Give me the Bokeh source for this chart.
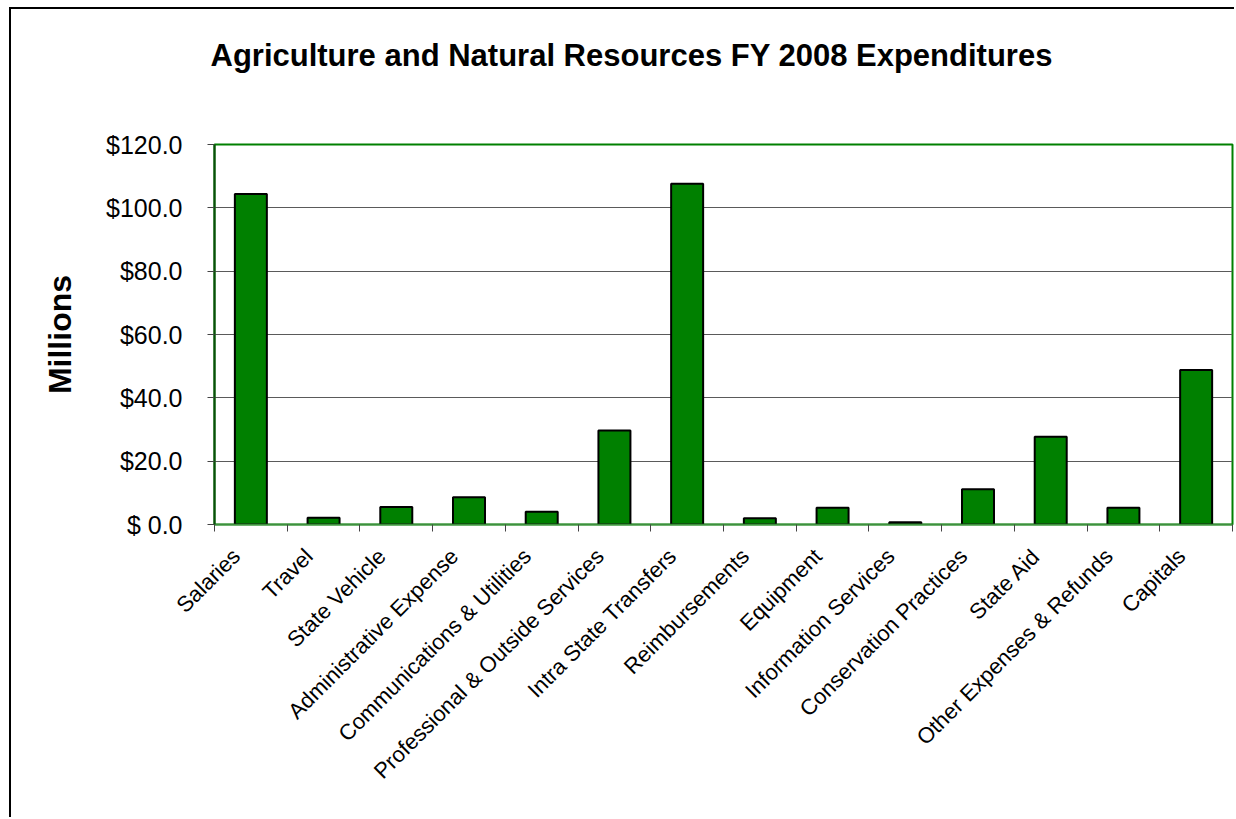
import numpy as np
from bokeh.plotting import figure
from bokeh.models import FixedTicker, ColumnDataSource, Range1d
from bokeh.embed import file_html
from bokeh.resources import INLINE

categories = [
    "Salaries", "Travel", "State Vehicle", "Administrative Expense",
    "Communications & Utilities", "Professional & Outside Services",
    "Intra State Transfers", "Reimbursements", "Equipment",
    "Information Services", "Conservation Practices", "State Aid",
    "Other Expenses & Refunds", "Capitals",
]
values = [104.4, 2.1, 5.5, 8.6, 4.0, 29.7, 107.6, 2.0, 5.3, 0.7, 11.1, 27.7, 5.3, 48.8]
y_ticks = [0, 20, 40, 60, 80, 100, 120]
y_tick_labels = ["$ 0.0", "$20.0", "$40.0", "$60.0", "$80.0", "$100.0", "$120.0"]
title_text = "Agriculture and Natural Resources FY 2008 Expenditures"
y_label = "Millions"

n = len(categories)
x_pos = [i + 0.5 for i in range(n)]
label_shift = 0.2  # rotated labels end slightly left of the category centre
label_pos = [x - label_shift for x in x_pos]
src = ColumnDataSource(dict(x=x_pos, top=values, cat=categories))

FONT = "Liberation Sans"

p = figure(width=1225, height=810, output_backend="svg", toolbar_location=None,
           x_range=Range1d(0, n), y_range=Range1d(0, 120),
           min_border_left=203, min_border_top=135, min_border_right=4,
           min_border_bottom=295)
p.styles = {"margin-left": "9px", "margin-top": "7px",
            "border-left": "2px solid black", "border-top": "2px solid black"}

p.vbar(x="x", top="top", width=0.44, bottom=0, source=src,
       fill_color="#008000", line_color="black", line_width=2)

p.outline_line_color = "#008000"
p.outline_line_width = 2

# title (two trailing empty lines lift it well above the frame)
p.title.text = title_text + "\n\n"
p.title.text_font = FONT
p.title.text_font_size = "31px"
p.title.text_font_style = "bold"
p.title.text_color = "black"
p.title.text_line_height = 1.02
p.title.align = "left"
p.title.offset = -4
p.title.standoff = 0

# x axis
xa = p.xaxis[0]
xa.ticker = FixedTicker(ticks=label_pos, minor_ticks=list(range(n + 1)))
xa.major_label_overrides = {x: c for x, c in zip(label_pos, categories)}
xa.major_tick_out = 0
xa.major_tick_in = 0
xa.minor_tick_out = 7
xa.minor_tick_in = 0
xa.minor_tick_line_color = "#444444"
xa.axis_line_color = "#3f8f3f"
xa.axis_line_width = 1.5
xa.major_label_orientation = np.pi / 4
xa.major_label_text_font = FONT
xa.major_label_text_font_size = "22px"
xa.major_label_text_color = "black"
xa.major_label_standoff = 21

# y axis
ya = p.yaxis[0]
ya.ticker = FixedTicker(ticks=y_ticks, minor_ticks=[])
ya.major_label_overrides = {t: l for t, l in zip(y_ticks, y_tick_labels)}
ya.major_tick_out = 7
ya.major_tick_in = 0
ya.major_tick_line_color = "#444444"
ya.axis_line_color = "#0b4d0b"
ya.axis_line_width = 2
ya.major_label_text_font = FONT
ya.major_label_text_font_size = "25px"
ya.major_label_text_color = "black"
ya.major_label_standoff = 25
ya.axis_label = y_label
ya.axis_label_text_font = FONT
ya.axis_label_text_font_size = "32px"
ya.axis_label_text_font_style = "bold"
ya.axis_label_text_color = "black"
ya.axis_label_standoff = 25

p.xgrid.visible = False
p.ygrid.ticker = FixedTicker(ticks=y_ticks[1:-1])
p.ygrid.grid_line_color = "#5a5a5a"
p.ygrid.grid_line_width = 1.2

p.background_fill_color = "white"
p.border_fill_color = "white"

open("out.html", "w").write(file_html(p, INLINE))
